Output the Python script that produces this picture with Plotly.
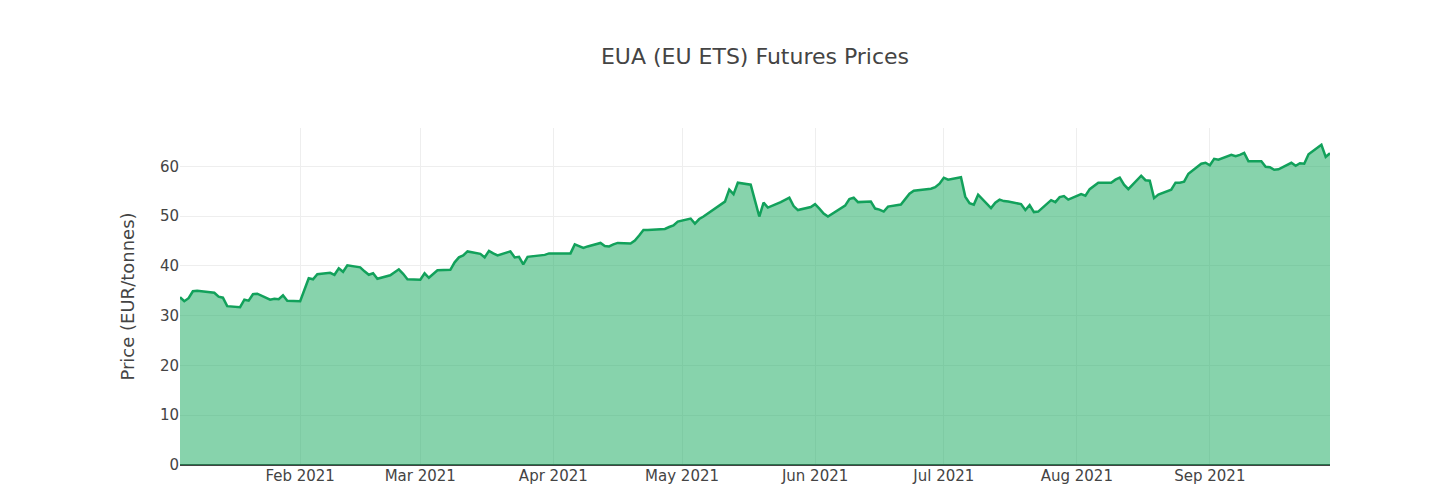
import pandas as pd
import plotly.graph_objects as go

# EUA futures settlement prices (EUR/tonne), one value per trading day
jan = [33.7, 32.9, 33.5, 34.9, 35.0, 34.7, 34.6, 33.8, 33.6, 31.9,
       31.7, 33.2, 33.0, 34.3, 34.4, 33.2, 33.4, 33.3, 34.1, 33.0]
feb = [32.9, 35.2, 37.5, 37.3, 38.3, 38.6, 38.2, 39.5, 38.8, 40.1,
       39.7, 38.9, 38.2, 38.5, 37.4, 38.1, 38.7, 39.3, 38.4, 37.3]
mar = [37.2, 38.5, 37.6, 38.4, 39.1, 39.2, 40.7, 41.7, 42.1, 42.9,
       42.4, 41.7, 43.0, 42.5, 42.1, 42.9, 41.7, 41.8, 40.3, 41.8,
       42.1, 42.2, 42.5]
apr = [42.5, 42.5, 44.3, 43.9, 43.6, 43.9, 44.6, 44.0, 43.9, 44.3,
       44.6, 44.5, 45.1, 46.1, 47.2, 47.2, 47.3, 47.4, 47.8, 48.1, 48.9]
may = [49.5, 48.5, 49.4, 49.9, 50.5, 52.3, 52.9, 55.3, 54.4, 56.7,
       56.3, 53.1, 49.9, 52.7, 51.7, 52.8, 53.2, 53.7, 52.0, 51.2, 51.8]
jun = [52.4, 51.5, 50.5, 49.9, 51.6, 52.1, 53.4, 53.7, 52.8, 52.9,
       51.5, 51.3, 50.9, 51.9, 52.3, 53.3, 54.5, 55.1, 55.2, 55.5,
       55.8, 56.5]
jul = [57.7, 57.3, 57.8, 53.9, 52.6, 52.3, 54.3, 51.6, 52.7, 53.3,
       53.0, 52.9, 52.4, 51.2, 52.2, 50.8, 50.9, 53.2, 52.8, 53.8,
       54.0, 53.3]
aug = [54.4, 54.1, 55.4, 56.1, 56.7, 56.7, 57.3, 57.7, 56.3, 55.4,
       58.1, 57.2, 57.1, 53.6, 54.3, 55.3, 56.7, 56.7, 56.9, 58.5,
       60.5, 60.7]
sep = [60.2, 61.5, 61.3, 62.3, 62.0, 62.3, 62.7, 61.0, 61.0, 59.9,
       59.8, 59.3, 59.4, 60.7, 60.1, 60.6, 60.5, 62.4, 64.3, 61.9, 62.6]

prices = jan + feb + mar + apr + may + jun + jul + aug + sep

# trading days: weekdays, exchange closed on Good Friday
dates = pd.bdate_range("2021-01-04", "2021-09-29")
dates = dates[dates != pd.Timestamp("2021-04-02")]

df = pd.DataFrame({"date": dates, "price": prices})

FONT = "DejaVu Sans, Verdana, sans-serif"
W, H = 1417, 486

fig = go.Figure()
fig.add_trace(go.Scatter(
    x=df["date"],
    y=df["price"],
    mode="lines",
    fill="tozeroy",
    line=dict(color="#12A15B", width=2.5),
    fillcolor="rgba(16,168,89,0.5)",
    name="EUA",
))

fig.update_layout(
    template="none",
    width=W,
    height=H,
    margin=dict(l=172, r=95, t=120, b=29),
    title=dict(
        text="EUA (EU ETS) Futures Prices",
        x=0.5, xref="paper", xanchor="center",
        y=1 - 48 / H, yref="container", yanchor="middle",
        font=dict(family=FONT, size=22, color="#444"),
    ),
    font=dict(family=FONT, size=15, color="#444"),
    showlegend=False,
    plot_bgcolor="white",
    paper_bgcolor="white",
)
fig.update_xaxes(
    type="date",
    dtick="M1",
    tickformat="%b %Y",
    showgrid=True,
    gridcolor="#eee",
    zeroline=False,
    ticks="",
)
fig.update_yaxes(
    title=dict(text="Price (EUR/tonnes)", font=dict(family=FONT, size=18, color="#444")),
    dtick=10,
    showgrid=True,
    gridcolor="#eee",
    zeroline=True,
    zerolinecolor="#444",
    zerolinewidth=2,
    ticks="",
)

fig.write_html("out.html")
